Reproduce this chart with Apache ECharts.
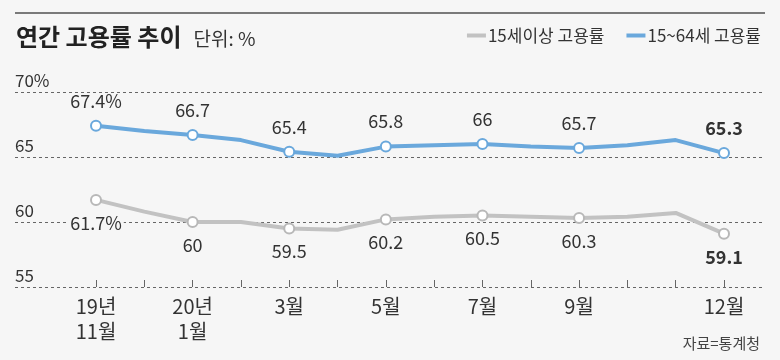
<!DOCTYPE html>
<html><head><meta charset="utf-8">
<script src="https://cdn.jsdelivr.net/npm/echarts@6/dist/echarts.min.js"></script>
<style>html,body{margin:0;padding:0;background:#f6f6f6;}#c{width:780px;height:360px;}</style>
</head><body><div id="c"></div>
<script>
var categories = ['19년 11월','19년 12월','20년 1월','2월','3월','4월','5월','6월','7월','8월','9월','10월','11월','12월'];
var tickLabels = ['19년\n11월','','20년\n1월','','3월','','5월','','7월','','9월','','','12월'];
var age15plus = [61.7, 60.8, 60.0, 60.0, 59.5, 59.4, 60.2, 60.4, 60.5, 60.4, 60.3, 60.4, 60.7, 59.1];
var age15to64 = [67.4, 67.0, 66.7, 66.3, 65.4, 65.1, 65.8, 65.9, 66.0, 65.8, 65.7, 65.9, 66.3, 65.3];
var labeled = [true, false, true, false, true, false, true, false, true, false, true, false, false, true];
var yTicks = [55, 60, 65, 70];

var FONT = '"Noto Sans CJK KR", "Noto Sans", sans-serif';
var BG = '#f6f6f6';
var GRAY = '#c2c2c2';
var BLUE = '#6aa8dc';

function buildData(vals) {
  return vals.map(function (v, i) {
    var last = i === vals.length - 1;
    var item = { value: v };
    if (!labeled[i]) {
      item.symbol = 'none';
      item.label = { show: false };
    } else {
      item.label = {
        show: true,
        formatter: (i === 0 ? v.toFixed(1) + '%' : String(v)),
        fontWeight: last ? 'bold' : 'normal'
      };
    }
    return item;
  });
}

var chart = echarts.init(document.getElementById('c'));
chart.setOption({
  backgroundColor: BG,
  animation: false,
  textStyle: { fontFamily: FONT },
  title: {
    text: '{a|연간 고용률 추이}{b|단위: %}',
    left: 11, top: 20,
    textStyle: {
      fontFamily: FONT, fontWeight: 'normal', fontSize: 19,
      rich: {
        a: { fontSize: 24, fontWeight: 'bold', color: '#222', fontFamily: FONT },
        b: { fontSize: 19, fontWeight: 'normal', color: '#333', fontFamily: FONT, padding: [3, 0, 0, 12] }
      }
    }
  },
  legend: {
    right: 14, top: 22,
    itemWidth: 19, itemHeight: 4, itemGap: 22,
    icon: 'rect',
    textStyle: { fontSize: 17, color: '#333', fontFamily: FONT, padding: [0, 0, 0, -3] },
    data: [
      { name: '15세이상 고용률', itemStyle: { color: GRAY, borderWidth: 0 } },
      { name: '15~64세 고용률', itemStyle: { color: BLUE, borderWidth: 0 } }
    ]
  },
  graphic: [
    { type: 'rect', left: 15, top: 12, shape: { width: 750, height: 2 }, style: { fill: '#7a7a7a' } },
    { type: 'text', right: 20, top: 336, style: { text: '자료=통계청', fontSize: 15, fill: '#444', fontFamily: FONT } }
  ],
  grid: [
    { left: 15, right: 15, top: 92, bottom: 73 },
    { left: 96, right: 56, top: 92, bottom: 73 }
  ],
  xAxis: [
    { gridIndex: 0, type: 'category', data: categories, show: false },
    {
      gridIndex: 1, type: 'category', data: categories, boundaryGap: false,
      axisLine: { show: false },
      axisTick: { show: true, inside: true, length: 7, alignWithLabel: true, interval: 0, lineStyle: { color: '#666', width: 1 } },
      axisLabel: {
        interval: 0, margin: 7, fontSize: 20, color: '#333', lineHeight: 25,
        formatter: function (v, i) { return tickLabels[i]; }
      }
    }
  ],
  yAxis: [
    {
      gridIndex: 0, type: 'value', min: 55, max: 70, interval: 5,
      axisLine: { show: false }, axisTick: { show: false },
      splitLine: { show: true, lineStyle: { color: '#666', type: [3, 3], width: 1 } },
      axisLabel: {
        inside: true, margin: 0, fontSize: 17, color: '#333',
        align: 'left', verticalAlign: 'bottom', padding: [0, 0, 3, 0],
        formatter: function (v) { return yTicks.indexOf(v) >= 0 ? (v === 70 ? v + '%' : String(v)) : ''; }
      }
    },
    {
      gridIndex: 1, type: 'value', min: 55, max: 70, interval: 5, show: false
    }
  ],
  series: [
    {
      name: '15세이상 고용률', type: 'line', xAxisIndex: 1, yAxisIndex: 1,
      data: buildData(age15plus),
      color: GRAY,
      lineStyle: { width: 4, color: GRAY },
      symbol: 'circle', symbolSize: 10,
      itemStyle: { color: '#fff', borderColor: '#b8b8b8', borderWidth: 2 },
      label: { position: 'bottom', distance: 8, fontSize: 18, color: '#333', backgroundColor: BG, padding: [0, 2], fontFamily: FONT },
      z: 3
    },
    {
      name: '15~64세 고용률', type: 'line', xAxisIndex: 1, yAxisIndex: 1,
      data: buildData(age15to64),
      color: BLUE,
      lineStyle: { width: 4, color: BLUE },
      symbol: 'circle', symbolSize: 10,
      itemStyle: { color: '#fff', borderColor: BLUE, borderWidth: 2 },
      label: { position: 'top', distance: 10, fontSize: 18, color: '#333', fontFamily: FONT },
      z: 4
    }
  ]
});
</script>
</body></html>
